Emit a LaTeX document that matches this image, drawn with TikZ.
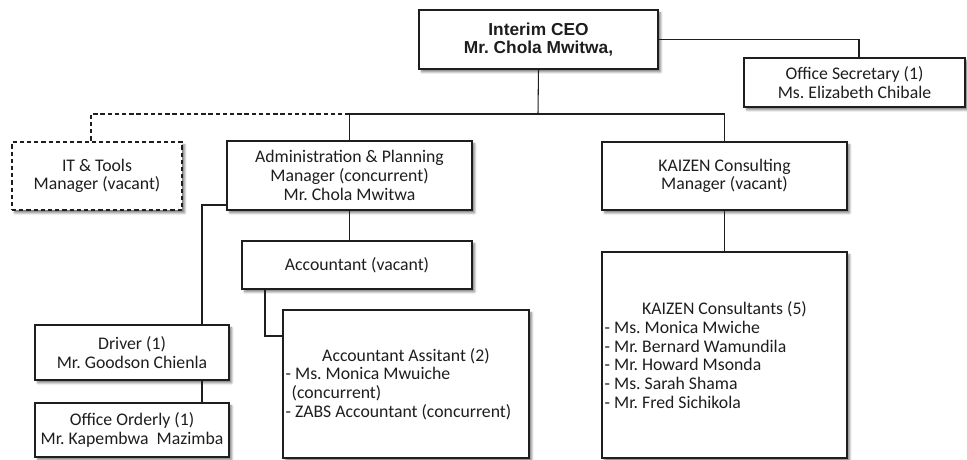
\documentclass[tikz,border=0pt]{standalone}
\usepackage{fontspec}
\setmainfont{Carlito}
\newfontfamily\headfont{Liberation Sans}
\usetikzlibrary{calc,shadows.blur}

\definecolor{ink}{HTML}{1E1E1E}

\tikzset{
  orgbox/.style={draw=ink, line width=0.8pt, fill=white, inner xsep=2pt, inner ysep=0pt,
    outer sep=0pt, align=center, text=ink, font=\fontsize{13.3}{14}\selectfont,
    blur shadow={shadow xshift=2pt, shadow yshift=-2.2pt, shadow blur radius=1.6pt,
      shadow blur steps=6, shadow opacity=50, shadow blur extra rounding=0pt}},
  vacantbox/.style={orgbox, dash pattern=on 3.2pt off 2.2pt},
  listbox/.style={orgbox, align=flush left},
  link/.style={draw=ink, line width=0.8pt},
  vacantlink/.style={link, dash pattern=on 3.2pt off 2.2pt}
}

\begin{document}
\frenchspacing
\begin{tikzpicture}[x=0.75pt, y=-0.75pt]
  \useasboundingbox (0,0) rectangle (967,460);

  % top level
  \node[orgbox, minimum width=179.25pt, minimum height=44.25pt,
        font=\headfont\bfseries\fontsize{13}{13.6}\selectfont]
    (ceo) at (538.5,39.5) {Interim CEO\\Mr. Chola Mwitwa,};
  \node[orgbox, minimum width=165.75pt, minimum height=36.75pt]
    (sec) at (854.5,82.5) {Office Secretary (1)\\Ms. Elizabeth Chibale};

  % managers
  \node[vacantbox, minimum width=127.5pt, minimum height=51pt]
    (it) at (97,176) {IT \& Tools\\Manager (vacant)};
  \node[orgbox, minimum width=183.75pt, minimum height=51.75pt]
    (adm) at (349.5,175.5) {Administration \& Planning\\Manager (concurrent)\\Mr. Chola Mwitwa};
  \node[orgbox, minimum width=183.75pt, minimum height=51pt]
    (mgr) at (724.5,176) {KAIZEN Consulting\\Manager (vacant)};

  % administration staff
  \node[orgbox, minimum width=172.5pt, minimum height=36pt]
    (acc) at (357,265) {Accountant (vacant)};
  \node[orgbox, minimum width=145.5pt, minimum height=41.25pt]
    (drv) at (132,352.5) {Driver (1)\\Mr. Goodson Chienla};
  \node[orgbox, minimum width=145.5pt, minimum height=40.5pt]
    (ord) at (132,430) {Office Orderly (1)\\Mr. Kapembwa\ \ Mazimba};
  \node[listbox, text width=180.5pt, minimum height=111pt]
    (ast) at (406,384) {\makebox[\linewidth]{Accountant Assitant (2)}\\
      - Ms. Monica Mwuiche\\
      \hspace*{4.5pt}(concurrent)\\
      - ZABS Accountant (concurrent)};

  % consulting staff
  \node[listbox, text width=179.75pt, minimum height=154.5pt]
    (kc) at (724.5,355) {\makebox[\linewidth]{KAIZEN Consultants (5)}\\
      - Ms. Monica Mwiche\\
      - Mr. Bernard Wamundila\\
      - Mr. Howard Msonda\\
      - Ms. Sarah Shama\\
      - Mr. Fred Sichikola};

  % reporting lines
  \coordinate (bus) at (538,114);
  \draw[link] (ceo.south) -- (bus);
  \draw[link] (adm.north) -- (adm.north |- bus) -| (mgr.north);
  \draw[vacantlink] (adm.north |- bus) -| ($(it.north)+(-6,0)$);
  \draw[link] (ceo.east) -| ($(sec.north)+(4.5,0)$);
  \draw[link] (adm.south) -- (adm.south |- acc.north);
  \coordinate (drvdrop) at ($(drv.north east)+(-27,0)$);
  \draw[link] ($(adm.south west)+(0,-5)$) -| (drvdrop);
  \draw[link] (drv.south -| drvdrop) -- (ord.north -| drvdrop);
  \draw[link] ($(acc.south west)+(23,0)$) |- ($(ast.north west)+(0,26)$);
  \draw[link] (mgr.south) -- (kc.north);
\end{tikzpicture}
\end{document}
